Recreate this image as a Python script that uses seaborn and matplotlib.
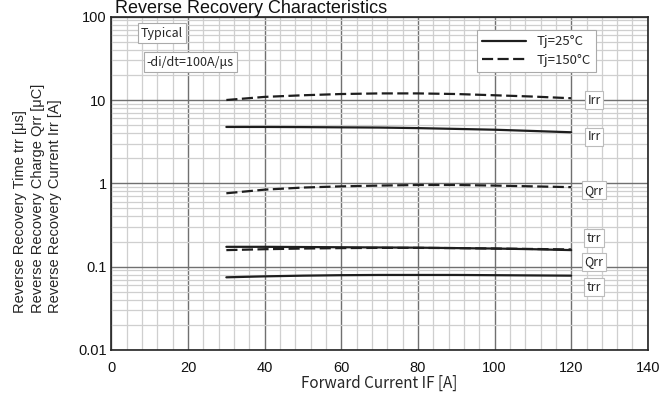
import seaborn as sns
import numpy as np
import pandas as pd
import matplotlib.pyplot as plt
from matplotlib.ticker import MultipleLocator, LogLocator, FixedLocator


current = [30, 40, 50, 60, 70, 80, 90, 100, 110, 120]

# Tj = 150 degC (dashed)
irr_150 = [10.0, 10.9, 11.4, 11.8, 12.0, 12.0, 11.8, 11.4, 11.0, 10.5]
qrr_150 = [0.76, 0.84, 0.89, 0.92, 0.94, 0.955, 0.955, 0.94, 0.92, 0.90]
trr_150 = [0.158, 0.162, 0.165, 0.167, 0.168, 0.168, 0.167, 0.165, 0.163, 0.161]

# Tj = 25 degC (solid)
irr_25 = [4.75, 4.75, 4.73, 4.70, 4.67, 4.60, 4.50, 4.40, 4.25, 4.10]
qrr_25 = [0.173, 0.173, 0.172, 0.171, 0.170, 0.169, 0.167, 0.165, 0.162, 0.158]
trr_25 = [0.0745, 0.0765, 0.078, 0.079, 0.0795, 0.0795, 0.0795, 0.079, 0.0785, 0.078]

# Curve name tags on the right hand side
tag_text = ["Irr", "Irr", "Qrr", "trr", "Qrr", "trr"]
tag_y = [10.0, 3.6, 0.83, 0.22, 0.115, 0.057]
tag_x = 126

x_ticks = [0, 20, 40, 60, 80, 100, 120, 140]
y_ticks = [0.01, 0.1, 1, 10, 100]
y_tick_labels = ["0.01", "0.1", "1", "10", "100"]

t25 = "Tj=25°C"
t150 = "Tj=150°C"

# Build a long-form table for seaborn
rows = []
for name, temp, vals in [("Irr", t150, irr_150), ("Qrr", t150, qrr_150),
                         ("trr", t150, trr_150), ("Irr", t25, irr_25),
                         ("Qrr", t25, qrr_25), ("trr", t25, trr_25)]:
    for c, v in zip(current, vals):
        rows.append(dict(current=c, value=v, param=name + temp, temp=temp))
df = pd.DataFrame(rows)

sns.set_theme(style="white")
jp = ["Noto Sans CJK JP", "DejaVu Sans"]
plt.rcParams["font.family"] = ["Liberation Sans", "DejaVu Sans"]

fig = plt.figure(figsize=(6.72, 4.04), dpi=100)
ax = fig.add_axes([0.1658, 0.1337, 0.7982, 0.825])

sns.lineplot(data=df, x="current", y="value", units="param", estimator=None,
             style="temp", style_order=[t25, t150],
             dashes={t25: "", t150: (5, 2)},
             color="#1e1e1e", linewidth=1.6, ax=ax)

ax.set_yscale("log")
ax.set_xlim(0, 140)
ax.set_ylim(0.01, 100)

# Grid: light minor lines, darker major lines
ax.xaxis.set_major_locator(FixedLocator(x_ticks))
ax.xaxis.set_minor_locator(MultipleLocator(4))
ax.yaxis.set_major_locator(FixedLocator(y_ticks))
ax.yaxis.set_minor_locator(LogLocator(base=10, subs=np.arange(2, 10)))
ax.set_yticklabels(y_tick_labels)
ax.grid(which="minor", color="#cfcfcf", linewidth=0.9)
ax.grid(which="major", color="#707070", linewidth=1.0)
ax.set_axisbelow(True)
ax.tick_params(which="both", length=0, labelsize=10.5, colors="#111111")
ax.tick_params(axis="x", pad=8)
for s in ax.spines.values():
    s.set_color("#222222")
    s.set_linewidth(1.2)

ax.set_xlabel("Forward Current IF [A]", family=jp, fontsize=11, labelpad=0)
ax.set_ylabel("")

# Three-line y label
fig.text(0.056, 1 - 313 / 404,
         "Reverse Recovery Time trr [μs]\n"
         "Reverse Recovery Charge Qrr [μC]\n"
         "Reverse Recovery Current Irr [A]",
         rotation=90, ha="center", va="bottom", multialignment="left",
         fontsize=10.5, linespacing=1.3)

# Title sitting just above the frame
fig.text(115 / 672, 1 - 13 / 404, "Reverse Recovery Characteristics",
         fontsize=13, va="baseline", ha="left", color="#111111")

box = dict(boxstyle="square,pad=0.25", fc="white", ec="#aaaaaa", lw=0.8)
ax.text(0.094, 0.951, "Typical", transform=ax.transAxes, family=jp,
        fontsize=9, ha="center", va="center", bbox=box)
ax.text(0.147, 0.864, "-di/dt=100A/μs", transform=ax.transAxes, family=jp,
        fontsize=9, ha="center", va="center", bbox=box)

for t, y in zip(tag_text, tag_y):
    ax.text(tag_x, y, t, family=jp, fontsize=9, ha="center", va="center",
            bbox=dict(boxstyle="square,pad=0.2", fc="white", ec="#bbbbbb", lw=0.8))

handles, labels = ax.get_legend_handles_labels()
leg = ax.legend(handles, labels, loc="upper right", bbox_to_anchor=(0.903, 0.96),
                borderaxespad=0, frameon=True, fancybox=False, handlelength=3.3,
                prop=dict(family=jp, size=9.5), edgecolor="#aaaaaa",
                framealpha=1, borderpad=0.4, labelspacing=0.4)
leg.get_frame().set_linewidth(0.8)
for line in leg.get_lines():
    line.set_linewidth(1.6)

fig.savefig("out.png", dpi=100)
